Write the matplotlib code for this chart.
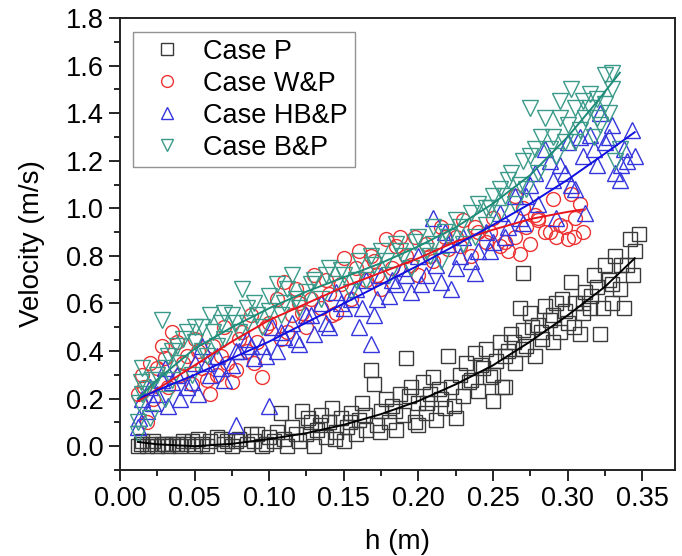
import matplotlib
matplotlib.use("Agg")
import matplotlib.pyplot as plt
from matplotlib.ticker import MultipleLocator

plt.rcParams['font.family'] = ['Liberation Sans', 'DejaVu Sans']

p_h = [0.012, 0.015, 0.02, 0.025, 0.03, 0.032, 0.035, 0.04, 0.042, 0.045, 0.05, 0.052,
       0.055, 0.06, 0.065, 0.07, 0.072, 0.075, 0.08, 0.085, 0.088, 0.09, 0.095, 0.1,
       0.103, 0.105, 0.11, 0.108, 0.112, 0.115, 0.12, 0.122, 0.125, 0.128, 0.13, 0.132,
       0.135, 0.138, 0.14, 0.142, 0.145, 0.148, 0.15, 0.152, 0.155, 0.158, 0.16, 0.162,
       0.165, 0.168, 0.17, 0.172, 0.175, 0.178, 0.18, 0.182, 0.185, 0.188, 0.19, 0.192,
       0.195, 0.198, 0.2, 0.203, 0.205, 0.208, 0.21, 0.212, 0.215, 0.218, 0.22, 0.222,
       0.225, 0.228, 0.23, 0.232, 0.235, 0.238, 0.24, 0.243, 0.245, 0.248, 0.25, 0.252,
       0.255, 0.258, 0.26, 0.262, 0.265, 0.268, 0.27, 0.272, 0.275, 0.278, 0.28, 0.283,
       0.285, 0.288, 0.29, 0.292, 0.295, 0.298, 0.3, 0.302, 0.305, 0.308, 0.31, 0.312,
       0.315, 0.318, 0.32, 0.322, 0.325, 0.328, 0.33, 0.332, 0.335, 0.338, 0.34, 0.342,
       0.345, 0.348, 0.27, 0.256,
       0.014, 0.018, 0.022, 0.028, 0.038, 0.048, 0.058, 0.068, 0.078, 0.092, 0.098, 0.118,
       0.126, 0.134, 0.144, 0.154, 0.164, 0.174, 0.184, 0.194, 0.2, 0.206, 0.214, 0.224,
       0.234, 0.242, 0.25, 0.258, 0.264, 0.27, 0.276, 0.282, 0.29, 0.296, 0.304, 0.31,
       0.316, 0.324, 0.33, 0.336, 0.344]
p_v = [0.0, 0.02, 0.01, 0.0, 0.01, 0.0, 0.01, 0.0, 0.02, 0.01, 0.0, 0.03,
       0.01, 0.02, 0.04, 0.01, 0.02, 0.0, 0.03, 0.01, 0.05, 0.02, 0.0, 0.04,
       0.02, 0.06, 0.03, 0.14, 0.0, 0.08, 0.02, 0.15, 0.05, 0.1, 0.0, 0.07,
       0.13, 0.04, 0.1, 0.16, 0.06, 0.12, 0.02, 0.08, 0.14, 0.05, 0.11, 0.18,
       0.07, 0.32, 0.26, 0.09, 0.15, 0.2, 0.1, 0.17, 0.07, 0.22, 0.13, 0.37,
       0.25, 0.1, 0.18, 0.27, 0.14, 0.22, 0.29, 0.11, 0.2, 0.16, 0.38, 0.25,
       0.12, 0.3, 0.21, 0.35, 0.28, 0.39, 0.23, 0.33, 0.41, 0.29, 0.19, 0.36,
       0.44, 0.25, 0.4, 0.47, 0.35, 0.58, 0.49, 0.42, 0.56, 0.38, 0.51, 0.45,
       0.59, 0.53, 0.44, 0.6, 0.48, 0.57, 0.52, 0.69, 0.6, 0.47, 0.56, 0.65,
       0.58, 0.72, 0.67, 0.47, 0.76, 0.7, 0.6, 0.8, 0.66, 0.58, 0.76, 0.87,
       0.82, 0.89, 0.73, 0.25,
       0.01, 0.0, 0.02, 0.01, 0.01, 0.02, 0.0, 0.03, 0.02, 0.05, 0.01, 0.05,
       0.12, 0.09, 0.03, 0.1, 0.13, 0.06, 0.15, 0.21, 0.09, 0.18, 0.24, 0.17,
       0.27, 0.34, 0.3, 0.38, 0.44, 0.41, 0.5, 0.48, 0.55, 0.62, 0.5, 0.6,
       0.63, 0.58, 0.68, 0.76, 0.72]

wp_h = [0.012, 0.015, 0.018, 0.02, 0.022, 0.025, 0.03, 0.032, 0.035, 0.038, 0.04, 0.045,
        0.048, 0.05, 0.055, 0.06, 0.062, 0.065, 0.07, 0.072, 0.075, 0.08, 0.085, 0.088,
        0.09, 0.095, 0.1, 0.105, 0.108, 0.11, 0.115, 0.12, 0.125, 0.13, 0.135, 0.14,
        0.145, 0.15, 0.155, 0.16, 0.165, 0.17, 0.175, 0.178, 0.182, 0.188, 0.192, 0.198,
        0.2, 0.205, 0.21, 0.215, 0.22, 0.225, 0.23, 0.235, 0.24, 0.245, 0.25, 0.255,
        0.26, 0.265, 0.268, 0.27, 0.275, 0.28, 0.285, 0.29, 0.292, 0.295, 0.3, 0.302,
        0.305, 0.308, 0.31, 0.265, 0.28,
        0.016, 0.028, 0.042, 0.052, 0.058, 0.068, 0.078, 0.082, 0.092, 0.098, 0.112, 0.118,
        0.122, 0.128, 0.138, 0.142, 0.148, 0.158, 0.168, 0.172, 0.185, 0.195, 0.208, 0.218,
        0.228, 0.238, 0.248, 0.258, 0.272, 0.278, 0.288, 0.298, 0.304]
wp_v = [0.22, 0.3, 0.1, 0.35, 0.2, 0.33, 0.37, 0.25, 0.48, 0.44, 0.3, 0.38,
        0.26, 0.45, 0.33, 0.22, 0.42, 0.3, 0.5, 0.35, 0.27, 0.45, 0.4, 0.55,
        0.35, 0.29, 0.52, 0.62, 0.45, 0.69, 0.55, 0.6, 0.5, 0.72, 0.58, 0.64,
        0.56, 0.79, 0.62, 0.82, 0.7, 0.78, 0.66, 0.87, 0.75, 0.88, 0.8, 0.88,
        0.72, 0.85, 0.78, 0.92, 0.83, 0.88, 0.95, 0.8, 0.9, 0.86, 0.96, 0.84,
        0.82, 0.88, 0.81, 1.0, 0.85, 0.95, 0.9, 1.04, 0.88, 0.93, 0.87, 1.06,
        0.96, 1.02, 0.9, 1.05, 0.96,
        0.25, 0.42, 0.35, 0.4, 0.28, 0.38, 0.32, 0.48, 0.44, 0.5, 0.48, 0.66,
        0.56, 0.62, 0.7, 0.55, 0.68, 0.75, 0.8, 0.72, 0.84, 0.76, 0.8, 0.88,
        0.84, 0.92, 0.9, 0.86, 0.92, 0.97, 0.9, 0.92, 0.88]

hb_h = [0.012, 0.013, 0.015, 0.02, 0.022, 0.025, 0.03, 0.032, 0.035, 0.04, 0.045, 0.05,
        0.052, 0.055, 0.06, 0.065, 0.07, 0.075, 0.078, 0.08, 0.085, 0.09, 0.095, 0.1,
        0.102, 0.105, 0.11, 0.115, 0.12, 0.125, 0.13, 0.135, 0.14, 0.145, 0.15, 0.155,
        0.16, 0.165, 0.168, 0.17, 0.175, 0.18, 0.185, 0.19, 0.195, 0.2, 0.205, 0.21,
        0.215, 0.22, 0.222, 0.225, 0.23, 0.235, 0.24, 0.245, 0.25, 0.255, 0.26, 0.265,
        0.27, 0.275, 0.28, 0.285, 0.29, 0.292, 0.295, 0.3, 0.305, 0.31, 0.312, 0.315,
        0.32, 0.322, 0.325, 0.33, 0.332, 0.335, 0.338, 0.34, 0.343, 0.345,
        0.018, 0.028, 0.038, 0.048, 0.058, 0.068, 0.078, 0.088, 0.098, 0.108, 0.118, 0.128,
        0.138, 0.148, 0.158, 0.162, 0.172, 0.182, 0.192, 0.202, 0.212, 0.218, 0.228, 0.238,
        0.248, 0.258, 0.268, 0.272, 0.278, 0.288, 0.298, 0.302, 0.308, 0.318, 0.328, 0.336]
hb_v = [0.08, 0.12, 0.2, 0.25, 0.18, 0.22, 0.33, 0.17, 0.27, 0.2, 0.25, 0.35,
        0.22, 0.42, 0.3, 0.38, 0.28, 0.34, 0.09, 0.4, 0.45, 0.37, 0.42, 0.17,
        0.5, 0.4, 0.46, 0.52, 0.43, 0.55, 0.47, 0.6, 0.5, 0.65, 0.58, 0.62,
        0.5, 0.7, 0.43, 0.55, 0.72, 0.63, 0.68, 0.75, 0.65, 0.8, 0.72, 0.96,
        0.69, 0.85, 0.66, 0.75, 0.88, 0.78, 0.82, 0.9, 0.86, 0.98, 0.92, 1.05,
        0.94, 1.1, 1.02, 1.25, 1.12, 0.96, 1.18, 1.28, 1.08, 1.22, 0.98, 1.31,
        1.18, 1.4, 1.28, 1.35, 1.15, 1.12, 1.25, 1.2, 1.33, 1.22,
        0.15, 0.28, 0.3, 0.27, 0.35, 0.33, 0.4, 0.42, 0.38, 0.48, 0.45, 0.55,
        0.52, 0.6, 0.66, 0.58, 0.62, 0.7, 0.72, 0.68, 0.76, 0.9, 0.8, 0.73,
        0.82, 0.88, 0.96, 1.05, 1.15, 1.2, 1.15, 1.1, 1.3, 1.25, 1.3, 1.18]

bp_h = [0.012, 0.012, 0.013, 0.014, 0.015, 0.018, 0.02, 0.025, 0.028, 0.03, 0.032, 0.035,
        0.038, 0.04, 0.045, 0.048, 0.05, 0.055, 0.058, 0.06, 0.065, 0.068, 0.07, 0.075,
        0.08, 0.082, 0.085, 0.09, 0.095, 0.1, 0.105, 0.108, 0.11, 0.115, 0.12, 0.125,
        0.13, 0.135, 0.14, 0.145, 0.15, 0.155, 0.16, 0.165, 0.17, 0.175, 0.18, 0.185,
        0.19, 0.195, 0.2, 0.205, 0.21, 0.215, 0.22, 0.225, 0.23, 0.235, 0.24, 0.245,
        0.25, 0.255, 0.26, 0.265, 0.27, 0.272, 0.275, 0.278, 0.28, 0.285, 0.29, 0.292,
        0.295, 0.3, 0.302, 0.305, 0.31, 0.312, 0.315, 0.318, 0.32, 0.322, 0.325, 0.328,
        0.33, 0.332, 0.335,
        0.015, 0.022, 0.03, 0.035, 0.042, 0.05, 0.055, 0.062, 0.07, 0.078, 0.085, 0.092,
        0.1, 0.112, 0.118, 0.128, 0.138, 0.148, 0.158, 0.168, 0.178, 0.188, 0.198, 0.208,
        0.218, 0.228, 0.238, 0.248, 0.258, 0.262, 0.268, 0.275, 0.282, 0.288, 0.295, 0.298,
        0.305, 0.308, 0.315, 0.32, 0.325, 0.33, 0.245, 0.255, 0.21]
bp_v = [0.05, 0.1, 0.18, 0.27, 0.33, 0.24, 0.12, 0.3, 0.53, 0.2, 0.38, 0.28,
        0.42, 0.35, 0.48, 0.3, 0.44, 0.5, 0.38, 0.55, 0.42, 0.52, 0.45, 0.55,
        0.48, 0.66, 0.52, 0.6, 0.5, 0.63, 0.68, 0.55, 0.6, 0.72, 0.58, 0.65,
        0.7, 0.62, 0.75, 0.68, 0.72, 0.65, 0.78, 0.7, 0.76, 0.82, 0.72, 0.85,
        0.8, 0.75, 0.88, 0.82, 0.92, 0.78, 0.88, 0.95, 0.85, 0.98, 1.02, 0.93,
        1.05, 0.98, 1.12, 1.02, 1.2, 1.08, 1.42, 1.25, 1.15, 1.38, 1.3, 1.22,
        1.45, 1.35, 1.5, 1.28, 1.45, 1.38, 1.42, 1.3, 1.46, 1.35, 1.56, 1.4,
        1.57, 1.2, 1.25,
        0.22, 0.28, 0.33, 0.4, 0.45, 0.5, 0.4, 0.48, 0.56, 0.52, 0.58, 0.55,
        0.57, 0.66, 0.62, 0.68, 0.72, 0.74, 0.7, 0.8, 0.78, 0.82, 0.86, 0.8,
        0.9, 0.92, 0.88, 1.0, 1.05, 1.15, 1.1, 1.22, 1.3, 1.25, 1.38, 1.28,
        1.42, 1.33, 1.48, 1.38, 1.44, 1.5, 1.0, 1.08, 0.85]

# ---- fitted curves ----
p_fit_h = [0.012, 0.025, 0.05, 0.075, 0.1, 0.125, 0.15, 0.175, 0.2, 0.225, 0.25, 0.275, 0.3, 0.325, 0.345]
p_fit_v = [0.018, 0.008, 0.0, 0.01, 0.03, 0.055, 0.09, 0.135, 0.19, 0.26, 0.34, 0.44, 0.55, 0.67, 0.79]

wp_fit_h = [0.012, 0.025, 0.05, 0.075, 0.1, 0.125, 0.15, 0.175, 0.2, 0.225, 0.25, 0.275, 0.3, 0.31]
wp_fit_v = [0.19, 0.24, 0.34, 0.44, 0.53, 0.6, 0.67, 0.73, 0.79, 0.86, 0.91, 0.955, 0.985, 0.995]

hb_fit_h = [0.012, 0.025, 0.05, 0.075, 0.1, 0.125, 0.15, 0.175, 0.2, 0.225, 0.25, 0.275, 0.3, 0.325, 0.345]
hb_fit_v = [0.2, 0.235, 0.3, 0.37, 0.44, 0.52, 0.6, 0.68, 0.76, 0.845, 0.93, 1.02, 1.12, 1.23, 1.32]

bp_fit_h = [0.012, 0.025, 0.05, 0.075, 0.1, 0.125, 0.15, 0.175, 0.2, 0.225, 0.25, 0.275, 0.3, 0.32, 0.335]
bp_fit_v = [0.2, 0.28, 0.41, 0.5, 0.58, 0.65, 0.71, 0.77, 0.84, 0.92, 1.02, 1.14, 1.3, 1.45, 1.57]

fig = plt.figure(figsize=(6.82, 5.56), dpi=100)
ax = fig.add_axes([120 / 682, 86 / 556, 555 / 682, 452 / 556])

ms = 10
ax.plot(p_h, p_v, 's', ms=ms, mfc='none', mec='#3a3a3a', mew=1.0, label='Case P')
ax.plot(wp_h, wp_v, 'o', ms=ms, mfc='none', mec='#ee3333', mew=1.0, label='Case W&P')
ax.plot(hb_h, hb_v, '^', ms=ms + 1, mfc='none', mec='#3535dd', mew=1.0, label='Case HB&P')
ax.plot(bp_h, bp_v, 'v', ms=ms + 1, mfc='none', mec='#3a9a8a', mew=1.0, label='Case B&P')

ax.plot(p_fit_h, p_fit_v, '-', color='black', lw=1.4)
ax.plot(wp_fit_h, wp_fit_v, '-', color='#e8141e', lw=1.4)
ax.plot(hb_fit_h, hb_fit_v, '-', color='#1010e0', lw=1.4)
ax.plot(bp_fit_h, bp_fit_v, '-', color='#1e8c78', lw=1.4)

ax.set_xlim(0, 0.372)
ax.set_ylim(-0.1, 1.8)
ax.xaxis.set_major_locator(MultipleLocator(0.05))
ax.xaxis.set_minor_locator(MultipleLocator(0.025))
ax.yaxis.set_major_locator(MultipleLocator(0.2))
ax.yaxis.set_minor_locator(MultipleLocator(0.1))
ax.xaxis.set_major_formatter(plt.FormatStrFormatter('%.2f'))
ax.yaxis.set_major_formatter(plt.FormatStrFormatter('%.1f'))
ax.tick_params(which='major', direction='out', length=8, width=1.2, labelsize=19.5)
ax.tick_params(which='minor', direction='out', length=4.5, width=1.2)
for s in ax.spines.values():
    s.set_linewidth(1.4)
    s.set_color('#222222')

ax.set_xlabel('h (m)', fontsize=20, labelpad=12)
ax.set_ylabel('Velocity (m/s)', fontsize=20, labelpad=15)

leg = ax.legend(loc='upper left', bbox_to_anchor=(13 / 555, 1 - 14 / 452),
                borderaxespad=0, fontsize=19.5, numpoints=1, fancybox=False,
                edgecolor='#777777', handlelength=2.0, handletextpad=0.35,
                labelspacing=0.22, borderpad=0.25)
leg.get_frame().set_linewidth(1.0)
for h in leg.legend_handles:
    h.set_markersize(8.5)

fig.savefig('out.png', dpi=100)
